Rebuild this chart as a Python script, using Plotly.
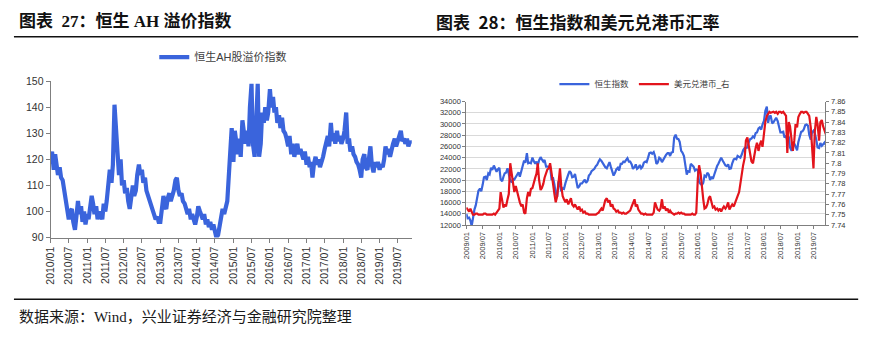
import plotly.graph_objects as go
import pandas as pd

# ---------------- data (semi-monthly readings, 1st and 15th of each month) ----------------
ah_2010 = [118, 123, 116, 122, 118, 114, 117, 113, 112, 108, 106, 99, 97, 100, 101, 96, 93, 98, 104, 99, 102, 96, 100, 95]
ah_2011 = [99, 97, 104, 106, 103, 99, 102, 97, 100, 98, 97, 103, 100, 104, 112, 116, 111, 118, 141, 128, 122, 114, 120, 110]
ah_2012 = [112, 107, 109, 104, 101, 105, 110, 106, 108, 114, 118, 114, 116, 111, 113, 108, 106, 104, 102, 100, 99, 97, 98, 96]
ah_2013 = [96, 101, 106, 102, 101, 105, 107, 104, 106, 108, 112, 113, 108, 106, 107, 104, 103, 101, 99, 101, 97, 99, 96, 95]
ah_2014 = [98, 102, 100, 98, 97, 99, 95, 97, 94, 96, 93, 95, 92, 90, 91, 94, 97, 101, 99, 102, 104, 113, 125, 132]
ah_2015 = [119, 131, 126, 122, 128, 121, 135, 130, 126, 131, 125, 140, 149, 126, 121, 132, 149, 121, 126, 138, 134, 140, 135, 138]
ah_2016 = [147, 140, 144, 138, 140, 134, 137, 132, 136, 131, 130, 128, 125, 129, 122, 126, 121, 124, 126, 122, 124, 122, 120, 123]
ah_2017 = [118, 121, 117, 119, 113, 118, 121, 118, 120, 117, 119, 121, 124, 127, 129, 125, 134, 127, 130, 126, 131, 127, 129, 126]
ah_2018 = [128, 131, 138, 126, 128, 123, 125, 122, 121, 119, 118, 116, 113, 120, 122, 117, 116, 120, 125, 118, 115, 119, 117, 119]
ah_2019 = [116, 118, 117, 120, 125, 122, 124, 121, 125, 126, 128, 125, 127, 129, 131, 127, 128, 126, 128, 125, 127, 126]

hsi_2009 = [14000, 13200, 13300, 12800, 11800, 13500, 14800, 15500, 17000, 18100, 18500, 18000, 19200, 20500, 20600, 20000, 21200, 21000, 22200, 21800, 22600, 22000, 21500, 21900]
hsi_2010 = [22200, 20100, 19800, 20600, 21200, 21300, 22100, 21100, 19800, 19700, 20200, 20100, 20500, 21000, 21400, 20600, 21800, 22400, 23500, 23100, 24800, 23000, 23100, 23000]
hsi_2011 = [24000, 23400, 22900, 23300, 22600, 23500, 24100, 23700, 23300, 23600, 22400, 22400, 22400, 22400, 20000, 20500, 19200, 17600, 17000, 19800, 19100, 18000, 18500, 18400]
hsi_2012 = [19500, 20400, 21000, 21600, 21300, 20500, 20600, 21100, 20000, 18600, 18900, 19400, 19400, 19800, 20100, 19500, 19900, 20800, 21100, 21600, 21800, 22000, 22500, 22700]
hsi_2013 = [23300, 23700, 23400, 23000, 22600, 22300, 22100, 22700, 23200, 22400, 21200, 20800, 21300, 21900, 22200, 21700, 22900, 22900, 23300, 23200, 23600, 23900, 23300, 23300]
hsi_2014 = [22800, 22000, 22300, 22800, 22000, 22200, 22700, 22100, 22400, 23100, 23300, 23200, 24000, 24800, 24900, 24700, 25000, 24300, 22900, 23100, 24000, 23800, 23200, 23600]
hsi_2015 = [24200, 24500, 24800, 24800, 24300, 24900, 25000, 27600, 28100, 27400, 27300, 26800, 25200, 24900, 24300, 22500, 21000, 21600, 21500, 22900, 22600, 22400, 21700, 21900]
hsi_2016 = [21800, 19700, 19300, 19100, 19500, 20800, 20600, 21300, 21000, 20000, 20600, 20200, 21000, 21900, 22500, 22900, 23500, 24000, 23500, 23100, 22600, 22500, 22800, 22000]
hsi_2017 = [22100, 23000, 23700, 23800, 23700, 24300, 24200, 24000, 24600, 25300, 25700, 25800, 25800, 26700, 27300, 27400, 27800, 27600, 28400, 28500, 29200, 29400, 29000, 29900]
hsi_2018 = [30600, 32300, 33100, 30200, 31300, 31500, 30100, 30300, 30800, 31100, 30500, 29400, 28500, 28500, 28600, 27600, 27900, 27000, 27800, 25800, 25200, 26200, 26500, 26000]
hsi_2019 = [25300, 26800, 27900, 28600, 28700, 29000, 29800, 29900, 29700, 28100, 27200, 28500, 28800, 28400, 27200, 25800, 25700, 26600, 26100, 26400, 26700, 26300]

fx_2009 = [7.757, 7.755, 7.753, 7.756, 7.752, 7.750, 7.750, 7.751, 7.751, 7.750, 7.750, 7.750, 7.750, 7.751, 7.751, 7.750, 7.750, 7.750, 7.750, 7.750, 7.751, 7.750, 7.752, 7.754]
fx_2010 = [7.756, 7.772, 7.762, 7.757, 7.760, 7.758, 7.765, 7.770, 7.800, 7.790, 7.780, 7.772, 7.778, 7.772, 7.766, 7.762, 7.758, 7.760, 7.752, 7.751, 7.766, 7.772, 7.768, 7.775]
fx_2011 = [7.776, 7.782, 7.786, 7.790, 7.800, 7.784, 7.774, 7.776, 7.780, 7.786, 7.790, 7.794, 7.795, 7.800, 7.790, 7.778, 7.770, 7.762, 7.768, 7.780, 7.795, 7.778, 7.768, 7.765]
fx_2012 = [7.762, 7.765, 7.760, 7.763, 7.766, 7.760, 7.758, 7.760, 7.757, 7.755, 7.758, 7.754, 7.755, 7.752, 7.753, 7.751, 7.751, 7.750, 7.750, 7.750, 7.750, 7.750, 7.750, 7.751]
fx_2013 = [7.752, 7.754, 7.756, 7.754, 7.758, 7.764, 7.766, 7.762, 7.764, 7.758, 7.760, 7.756, 7.755, 7.753, 7.754, 7.752, 7.752, 7.751, 7.752, 7.751, 7.751, 7.752, 7.753, 7.754]
fx_2014 = [7.758, 7.762, 7.765, 7.758, 7.760, 7.755, 7.752, 7.751, 7.751, 7.750, 7.751, 7.750, 7.750, 7.750, 7.750, 7.750, 7.752, 7.762, 7.758, 7.755, 7.754, 7.756, 7.765, 7.756]
fx_2015 = [7.758, 7.754, 7.756, 7.752, 7.754, 7.752, 7.751, 7.750, 7.751, 7.751, 7.752, 7.751, 7.752, 7.751, 7.751, 7.750, 7.750, 7.750, 7.750, 7.750, 7.751, 7.750, 7.750, 7.752]
fx_2016 = [7.785, 7.798, 7.790, 7.775, 7.765, 7.756, 7.757, 7.760, 7.766, 7.768, 7.760, 7.757, 7.758, 7.755, 7.756, 7.754, 7.756, 7.753, 7.756, 7.758, 7.756, 7.758, 7.762, 7.755]
fx_2017 = [7.758, 7.760, 7.758, 7.762, 7.765, 7.768, 7.772, 7.782, 7.790, 7.798, 7.805, 7.822, 7.825, 7.818, 7.812, 7.802, 7.800, 7.808, 7.815, 7.820, 7.812, 7.818, 7.822, 7.816]
fx_2018 = [7.832, 7.840, 7.846, 7.848, 7.850, 7.849, 7.850, 7.850, 7.849, 7.850, 7.848, 7.850, 7.850, 7.849, 7.850, 7.848, 7.846, 7.810, 7.840, 7.836, 7.825, 7.812, 7.822, 7.838]
fx_2019 = [7.835, 7.845, 7.848, 7.850, 7.850, 7.849, 7.850, 7.850, 7.848, 7.846, 7.835, 7.810, 7.795, 7.830, 7.845, 7.838, 7.822, 7.840, 7.842, 7.836, 7.830, 7.828]

ah_values = ah_2010 + ah_2011 + ah_2012 + ah_2013 + ah_2014 + ah_2015 + ah_2016 + ah_2017 + ah_2018 + ah_2019
hsi_values = hsi_2009 + hsi_2010 + hsi_2011 + hsi_2012 + hsi_2013 + hsi_2014 + hsi_2015 + hsi_2016 + hsi_2017 + hsi_2018 + hsi_2019
fx_values = fx_2009 + fx_2010 + fx_2011 + fx_2012 + fx_2013 + fx_2014 + fx_2015 + fx_2016 + fx_2017 + fx_2018 + fx_2019

ah_dates = pd.date_range("2010-01-01", periods=len(ah_values), freq="SMS")
hsi_dates = pd.date_range("2009-01-01", periods=len(hsi_values), freq="SMS")

left_title = "图表\u200227：恒生 AH 溢价指数"
right_title = "图表\u200228：恒生指数和美元兑港币汇率"
source_note = "数据来源：Wind，兴业证券经济与金融研究院整理"
ah_name = "恒生AH股溢价指数"
hsi_name = "恒生指数"
fx_name = "美元兑港币_右"

# ---------------- styling ----------------
W, H = 880, 341
def px(x):
    return x / W
def py(y):
    return 1 - y / H

BLUE = "#3a64dc"
RED = "#e3141c"
AXIS = "#7f7f7f"
TXT = "#333333"
SANS = "Liberation Sans, Noto Sans CJK SC, sans-serif"

fig = go.Figure()
fig.add_trace(go.Scatter(x=ah_dates, y=ah_values, mode="lines", name=ah_name,
                         line=dict(color=BLUE, width=4.2), xaxis="x", yaxis="y", legend="legend"))
fig.add_trace(go.Scatter(x=hsi_dates, y=hsi_values, mode="lines", name=hsi_name,
                         line=dict(color=BLUE, width=2.2), xaxis="x2", yaxis="y2", legend="legend2"))
fig.add_trace(go.Scatter(x=hsi_dates, y=fx_values, mode="lines", name=fx_name,
                         line=dict(color=RED, width=2.2), xaxis="x2", yaxis="y3", legend="legend2"))

common_x = dict(type="date", dtick="M6", tickformat="%Y/%m", tickangle=-90, showline=True,
                linecolor=AXIS, linewidth=1, ticks="outside", tickcolor=AXIS, showgrid=False,
                zeroline=False)

fig.update_layout(
    width=W, height=H, margin=dict(l=0, r=0, t=0, b=0),
    paper_bgcolor="white", plot_bgcolor="white",
    xaxis=dict(common_x, domain=[px(44), px(408)], anchor="y",
               range=["2010-01-01", "2019-11-18"], tick0="2010-01-01", ticklen=4,
               tickfont=dict(family=SANS, size=10.5, color=TXT)),
    yaxis=dict(domain=[py(240), py(78)], anchor="x", range=[90, 150], dtick=10,
               showline=True, linecolor=AXIS, ticks="outside", ticklen=4, tickcolor=AXIS,
               showgrid=False, zeroline=False,
               tickfont=dict(family=SANS, size=10.5, color=TXT)),
    xaxis2=dict(common_x, domain=[px(463), px(825)], anchor="y2",
                range=["2009-01-01", "2019-11-10"], tick0="2009-01-01", ticklen=3,
                tickfont=dict(family=SANS, size=7.5, color=TXT)),
    yaxis2=dict(domain=[py(227), py(99)], anchor="x2", range=[12000, 34000], dtick=2000,
                tickformat="d", showline=True, linecolor=AXIS, ticks="outside", ticklen=3,
                tickcolor=AXIS, showgrid=True, gridcolor="#d9d9d9", gridwidth=1, zeroline=False,
                tickfont=dict(family=SANS, size=7.5, color=TXT)),
    yaxis3=dict(overlaying="y2", side="right", anchor="x2", range=[7.74, 7.86], dtick=0.01,
                showline=True, linecolor=AXIS, ticks="outside", ticklen=3, tickcolor=AXIS,
                showgrid=False, zeroline=False,
                tickfont=dict(family=SANS, size=7.5, color=TXT)),
    legend=dict(x=px(218), y=py(53), xanchor="center", yanchor="middle", orientation="h",
                font=dict(family=SANS, size=11, color="#404040"), bgcolor="rgba(0,0,0,0)"),
    legend2=dict(x=px(643), y=py(81), xanchor="center", yanchor="middle", orientation="h",
                 font=dict(family=SANS, size=8.5, color="#404040"), bgcolor="rgba(0,0,0,0)"),
    showlegend=True,
    shapes=[
        dict(type="line", xref="paper", yref="paper", x0=px(7), x1=px(858), y0=py(32), y1=py(32),
             line=dict(color="#111111", width=1.5)),
        dict(type="line", xref="paper", yref="paper", x0=px(7), x1=px(858), y0=py(304), y1=py(304),
             line=dict(color="#111111", width=1.5)),
    ],
    annotations=[
        dict(text=left_title, x=px(10), y=py(16), xref="paper", yref="paper", xanchor="left",
             yanchor="middle", showarrow=False,
             font=dict(family="Liberation Serif, Noto Sans CJK SC", size=17, color="#111111", weight="bold")),
        dict(text=right_title, x=px(430), y=py(16), xref="paper", yref="paper", xanchor="left",
             yanchor="middle", showarrow=False,
             font=dict(family="Noto Sans CJK SC, sans-serif", size=17, color="#111111", weight="bold")),
        dict(text=source_note, x=px(10), y=py(321.5), xref="paper", yref="paper", xanchor="left",
             yanchor="middle", showarrow=False,
             font=dict(family="Liberation Serif, Noto Sans CJK SC", size=15, color="#1a1a1a")),
    ],
)

fig.write_html("out.html", config={"displayModeBar": False})
